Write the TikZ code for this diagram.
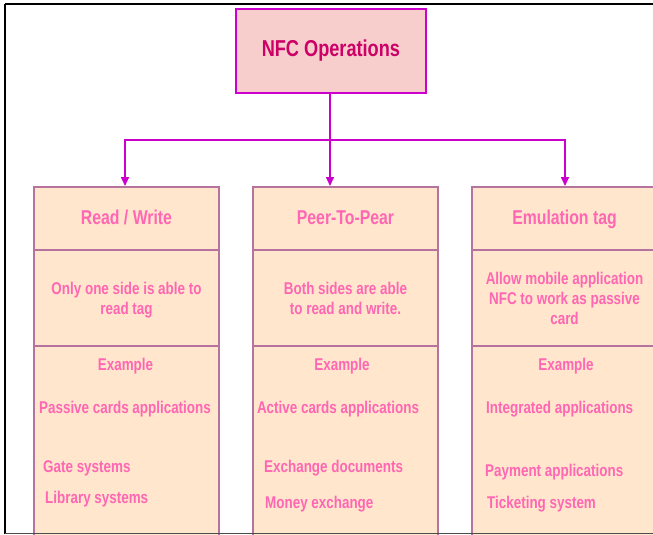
\documentclass[tikz,border=0pt]{standalone}
\usepackage{fontspec}
\setmainfont{Liberation Sans}[FakeStretch=0.79]
\usetikzlibrary{arrows.meta}
\definecolor{nfcfill}{HTML}{F8CECC}
\definecolor{nfcline}{HTML}{CC00CC}
\definecolor{nfctext}{HTML}{CC0066}
\definecolor{boxfill}{HTML}{FFE6CC}
\definecolor{boxline}{HTML}{B5739D}
\definecolor{pinktext}{HTML}{FF66B3}
\begin{document}
\begin{tikzpicture}[x=1pt,y=-1pt,
  cell/.style={draw=boxline, fill=boxfill, line width=2pt, minimum width=185pt, inner sep=0pt, anchor=north west},
  headtxt/.style={text=pinktext, font=\bfseries\fontsize{20}{22}\selectfont, align=center, text height=15pt, text depth=4pt},
  bodytxt/.style={text=pinktext, font=\bfseries\fontsize{17}{20}\selectfont, align=center, text depth=0pt},
  item/.style={text=pinktext, font=\bfseries\fontsize{17}{20}\selectfont, inner sep=0pt, text height=12.5pt, text depth=3.5pt},
  arr/.style={draw=nfcline, line width=1.6pt, -{Triangle[length=9pt,width=8pt]}},
  conn/.style={draw=nfcline, line width=1.6pt}
]
\useasboundingbox (0,0) rectangle (653,535);
\clip (0,0) rectangle (653,535);
\fill[white] (0,0) rectangle (653,535);

% top node
\node[draw=nfcline, fill=nfcfill, line width=1.8pt, minimum width=190pt, minimum height=84pt, anchor=north west,
      text=nfctext, font=\bfseries\fontsize{23}{26}\selectfont] (nfc) at (235,8) {NFC Operations};

% column 1
\node[cell, minimum height=63pt, headtxt] (h1) at (33,186) {Read / Write};
\node[cell, minimum height=96pt, bodytxt] (d1) at (33,249) {Only one side is able to\\read tag};
\node[cell, minimum height=210pt] (e1) at (33,345) {};
\node[item] (e1a) at (125.5,366) {Example};
\node[item] (e1b) at (125,409) {Passive cards applications};
\node[item, anchor=west] (e1c) at (43,468) {Gate systems};
\node[item, anchor=west] (e1d) at (45,499) {Library systems};

% column 2
\node[cell, minimum height=63pt, headtxt] (h2) at (252,186) {Peer-To-Pear};
\node[cell, minimum height=96pt, bodytxt] (d2) at (252,249) {Both sides are able\\to read and write.};
\node[cell, minimum height=210pt] (e2) at (252,345) {};
\node[item] (e2a) at (342,366) {Example};
\node[item] (e2b) at (338,409) {Active cards applications};
\node[item, anchor=west] (e2c) at (264,468) {Exchange documents};
\node[item, anchor=west] (e2d) at (265,504) {Money exchange};

% column 3
\node[cell, minimum height=63pt, headtxt] (h3) at (471,186) {Emulation tag};
\node[cell, minimum height=96pt, bodytxt] (d3) at (471,249) {Allow mobile application\\NFC to work as passive\\card};
\node[cell, minimum height=210pt] (e3) at (471,345) {};
\node[item] (e3a) at (566,366) {Example};
\node[item, anchor=west] (e3b) at (486,409) {Integrated applications};
\node[item, anchor=west] (e3c) at (485,472) {Payment applications};
\node[item, anchor=west] (e3d) at (487,504) {Ticketing system};

% connectors
\coordinate (j) at (330,140);
\coordinate (t1) at (125,186);
\coordinate (t2) at (330,186);
\coordinate (t3) at (565,186);
\draw[arr] (nfc.south -| j) -- (t2);
\draw[arr] (j) -| (t1);
\draw[arr] (j) -| (t3);

% outer frame
\draw[black, line width=2pt] (5,4) -- (700,4);
\draw[black, line width=2pt] (5,4) -- (5,534);
\draw[black!70, line width=1.5pt] (5,533.5) -- (700,533.5);
\end{tikzpicture}
\end{document}
